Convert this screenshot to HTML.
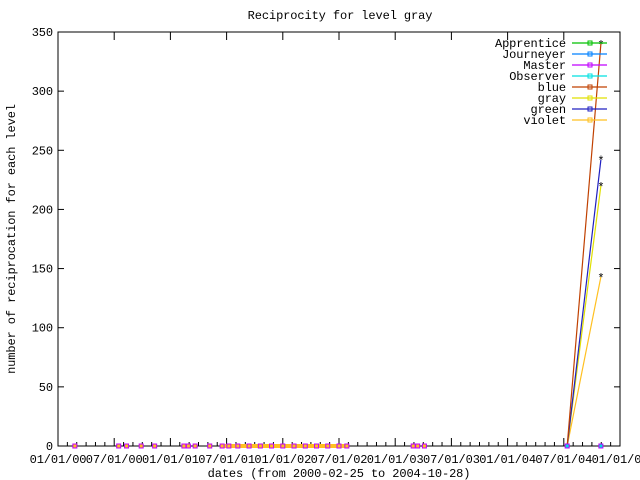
<!DOCTYPE html>
<html><head><meta charset="utf-8"><style>
body{margin:0;background:#fff}
svg{display:block}
text{font-family:"Liberation Mono","DejaVu Sans Mono",monospace;font-size:12px;fill:#000;letter-spacing:-0.1px}
</style></head><body>
<svg id="chart" width="640" height="480" xmlns="http://www.w3.org/2000/svg">
<text x="340" y="19" text-anchor="middle">Reciprocity for level gray</text>
<text transform="translate(15,239) rotate(-90)" text-anchor="middle">number of reciprocation for each level</text>
<text x="339" y="477" text-anchor="middle">dates (from 2000-02-25 to 2004-10-28)</text>
<rect x="58" y="32" width="562" height="414" fill="none" stroke="#000" stroke-width="1"/>
<g id="axes"></g><g id="marks"></g><g id="legend"></g>
</svg>
<script>
// data (dates as fractional years)
const xTickLabels = ["01/01/00","07/01/00","01/01/01","07/01/01","01/01/02","07/01/02","01/01/03","07/01/03","01/01/04","07/01/04","01/01/05"];
const xTickYears = [2000,2000.5,2001,2001.5,2002,2002.5,2003,2003.5,2004,2004.5,2005];
const yTicks = [0,50,100,150,200,250,300,350];
const zeroDates = [2000.15,2000.54,2000.61,2000.74,2000.86,2001.12,2001.16,2001.22,2001.35,2001.46,2001.52,2001.6,2001.7,2001.8,2001.9,2002.0,2002.1,2002.2,2002.3,2002.4,2002.5,2002.57,2003.16,2003.2,2003.26];
const spikeDates = [2004.53,2004.83];
const blueVals = [0,340];
const greenVals = [0,242];
const grayVals = [0,220];
const violetVals = [0,143];
const masterVals = [0,0];
const seriesNames = ["Apprentice","Journeyer","Master","Observer","blue","gray","green","violet"];
const seriesColors = ["#00c000","#0080ff","#c000ff","#00e0e0","#c04000","#e0e000","#2020c0","#ffc020"];

const NS="http://www.w3.org/2000/svg";
const X0=58,X1=620,Y0=446,Y1=32;
const xs=d=>X0+(d-2000)/5*(X1-X0);
const ys=v=>Y0-v/350*(Y0-Y1);
function mk(tag,attrs,parent,txt){const e=document.createElementNS(NS,tag);for(const k in attrs)e.setAttribute(k,attrs[k]);if(txt!==undefined)e.textContent=txt;parent.appendChild(e);return e;}
const axes=document.getElementById('axes'),marks=document.getElementById('marks'),legend=document.getElementById('legend');

yTicks.forEach(v=>{
  const t=mk('line',{x1:X0,x2:X0+6,y1:ys(v),y2:ys(v),stroke:'#000'},axes);
  
  
  const t2=mk('line',{x1:X1-6,x2:X1,y1:ys(v),y2:ys(v),stroke:'#000'},axes);
  
  
  const l=mk('text',{x:X0-5,y:ys(v)+4,'text-anchor':'end'},axes,String(v));
  
  
});
xTickYears.forEach((d,i)=>{
  const t=mk('line',{x1:xs(d),x2:xs(d),y1:Y0,y2:Y0-8,stroke:'#000'},axes);
  
  
  const t2=mk('line',{x1:xs(d),x2:xs(d),y1:Y1,y2:Y1+8,stroke:'#000'},axes);
  
  
  if(i<10){for(let m=1;m<6;m++){const dd=d+m/12;const mt=mk('line',{x1:xs(dd),x2:xs(dd),y1:Y0,y2:Y0-4,stroke:'#000'},axes);
    
    }}
  const l=mk('text',{x:xs(d),y:Y0+17,'text-anchor':'middle'},axes,xTickLabels[i]);
  
  
});
// orange baseline band
const band=mk('line',{x1:xs(2001.46),x2:xs(2002.57),y1:Y0,y2:Y0,stroke:'#ffc020','stroke-width':4},marks);


zeroDates.forEach(d=>{
  const p=mk('rect',{x:xs(d)-2,y:Y0-2,width:4,height:4,fill:'#ffc020',stroke:'#c000ff','stroke-width':1},marks);
  
  
});
function line(vals,color,name){
  const pts=spikeDates.map((d,i)=>xs(d)+','+ys(vals[i])).join(' ');
  const l=mk('polyline',{points:pts,fill:'none',stroke:color,'stroke-width':1.2},marks);
  
  
  const px=xs(spikeDates[1]),py=ys(vals[1]);
  const m=mk('text',{x:px,y:py+5,'text-anchor':'middle',fill:color,'font-size':'11px'},marks,'*');
  
  
}
line(violetVals,'#ffc020','violet');
line(grayVals,'#e0e000','gray');
line(greenVals,'#2020c0','green');
line(blueVals,'#c04000','blue');
spikeDates.forEach((d,i)=>{
  const p=mk('rect',{x:xs(d)-2,y:ys(masterVals[i])-2,width:4,height:4,fill:'#00e0e0',stroke:'#c000ff'},marks);
  
  
});
seriesNames.forEach((n,i)=>{
  const y=43+i*11;
  const t=mk('text',{x:566,y:y+4,'text-anchor':'end'},legend,n);
  
  
  const l=mk('line',{x1:572,x2:607,y1:y,y2:y,stroke:seriesColors[i],'stroke-width':1.2},legend);
  
  
  const m=mk('rect',{x:588,y:y-2,width:4,height:4,fill:'none',stroke:seriesColors[i]},legend);
  
  
});
</script>
</body></html>
